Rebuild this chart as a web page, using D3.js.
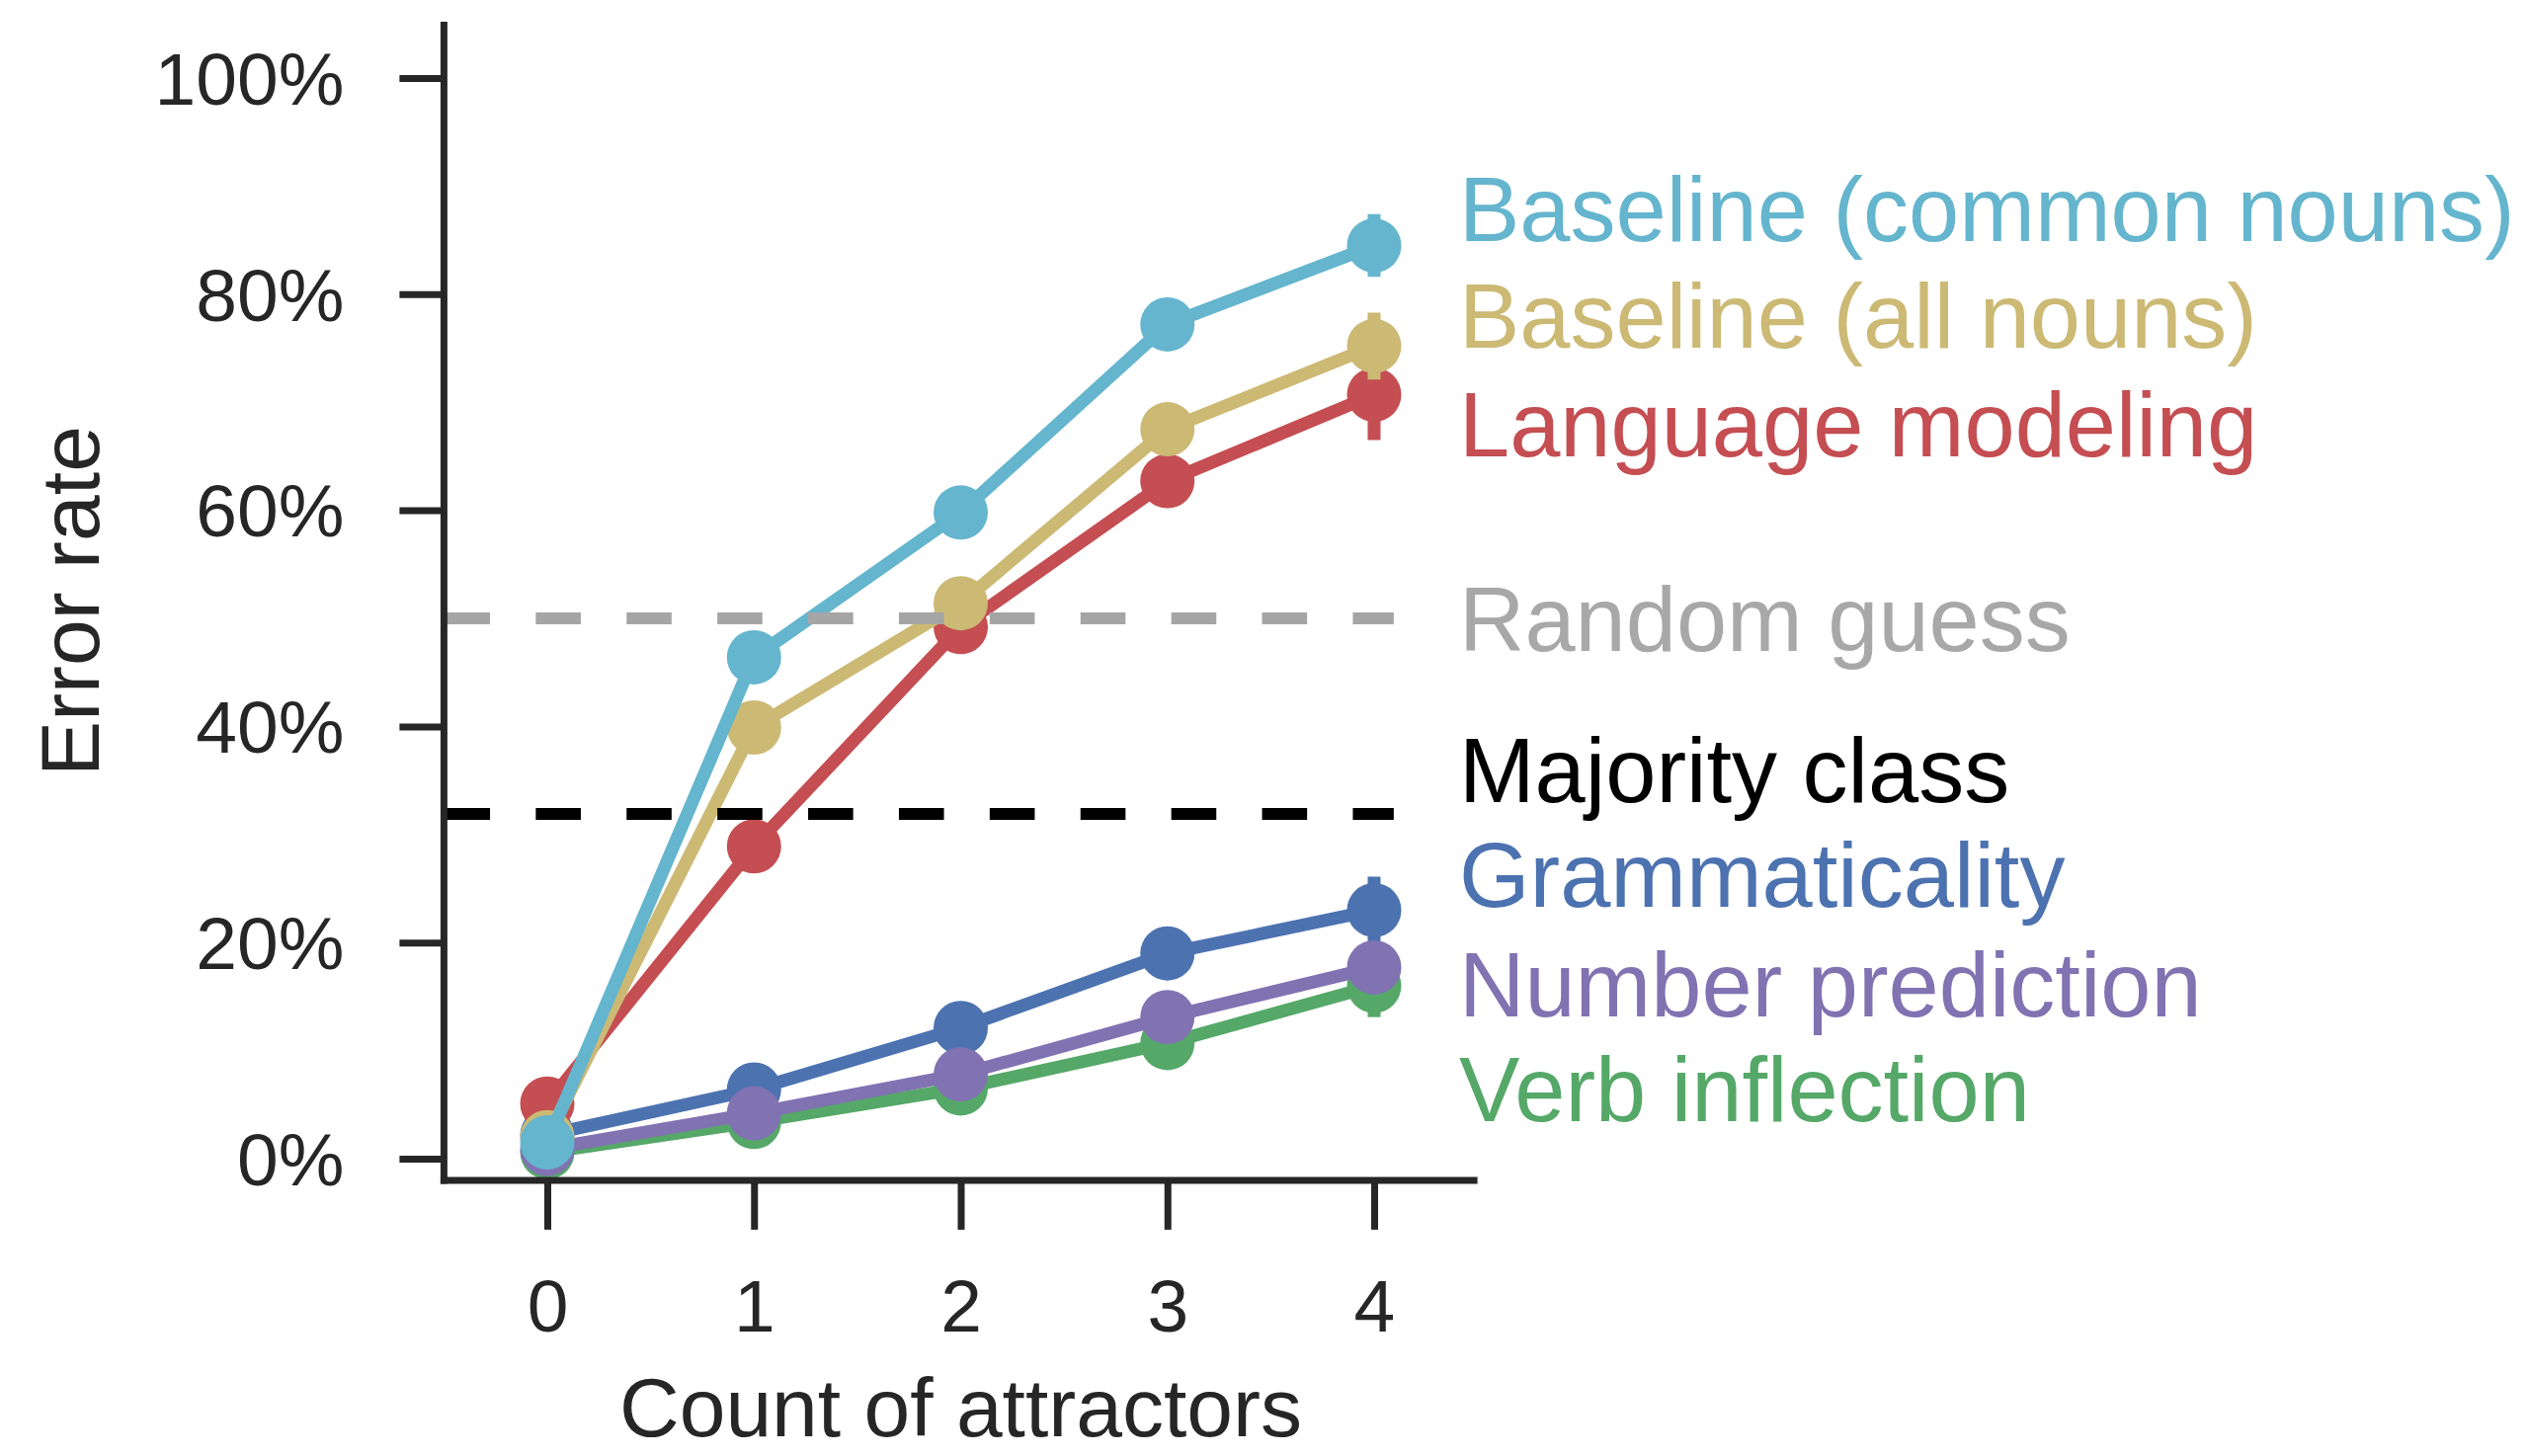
<!DOCTYPE html>
<html>
<head>
<meta charset="utf-8">
<script src="https://cdn.jsdelivr.net/npm/d3@7"></script>
<style>
  html, body { margin: 0; padding: 0; background: #ffffff; }
  svg { display: block; }
  text { font-family: "Liberation Sans", Arial, sans-serif; }
</style>
</head>
<body>
<svg id="chart" width="2557" height="1474"></svg>
<script>
// ---------------- data ----------------
const categories = [0, 1, 2, 3, 4];
const yTickValues = [0, 20, 40, 60, 80, 100];
const yTickLabels = ["0%", "20%", "40%", "60%", "80%", "100%"];

const baselineCommon   = [1.5, 46.4, 59.8, 77.2, 84.5];
const baselineAll      = [2.0, 39.9, 51.4, 67.5, 75.2];
const languageModeling = [5.1, 28.9, 49.2, 62.7, 70.7];
const grammaticality   = [2.2, 6.4, 12.1, 19.0, 23.0];
const numberPrediction = [0.9, 4.2, 7.8, 13.1, 17.7];
const verbInflection   = [0.6, 3.4, 6.5, 10.7, 16.0];

const errCommon = [0.8, 1.5, 1.6, 1.8, 2.9];
const errAll    = [0.8, 1.6, 1.7, 1.9, 3.1];
const errLM     = [0.8, 1.6, 1.7, 1.9, 4.2];
const errGram   = [0.5, 0.8, 1.2, 1.6, 3.1];
const errNum    = [0.3, 0.7, 1.0, 1.4, 2.4];
const errVerb   = [0.3, 0.7, 1.0, 1.4, 2.9];

const randomGuess = 50;
const majorityClass = 31.9;

const labelNames = ["Baseline (common nouns)", "Baseline (all nouns)", "Language modeling",
                    "Random guess", "Majority class", "Grammaticality", "Number prediction", "Verb inflection"];

// ---------------- layout / style ----------------
const labelBaselines = [84.9, 75.0, 65.0, 47.0, 33.0, 23.3, 13.2, 3.45];
const labelColors = ["#64b5cd", "#ccb974", "#c44e52", "#a8a8a8", "#000000", "#4c72b0", "#8172b2", "#55a868"];

// drawing order (bottom to top)
const series = [
  { values: verbInflection,   err: errVerb,   color: "#55a868" },
  { values: grammaticality,   err: errGram,   color: "#4c72b0" },
  { values: numberPrediction, err: errNum,    color: "#8172b2" },
  { values: languageModeling, err: errLM,     color: "#c44e52" },
  { values: baselineAll,      err: errAll,    color: "#ccb974" },
  { values: baselineCommon,   err: errCommon, color: "#64b5cd" }
];

const axisColor = "#262626";
const svg = d3.select("#chart");

const x = d3.scaleLinear().domain([-0.5, 4.5]).range([449.4, 1495.6]);
const y = d3.scaleLinear().domain([-2, 105.2]).range([1194.9, 22.1]);

const lineW = 13, markerR = 27.5, axisW = 7;

// series
const lineGen = d3.line().x((d, i) => x(categories[i])).y(d => y(d));
series.forEach(s => {
  const g = svg.append("g");
  g.selectAll("line.err").data(s.values).enter().append("line")
    .attr("x1", (d, i) => x(categories[i])).attr("x2", (d, i) => x(categories[i]))
    .attr("y1", (d, i) => y(d - s.err[i])).attr("y2", (d, i) => y(d + s.err[i]))
    .attr("stroke", s.color).attr("stroke-width", 13);
  g.append("path").datum(s.values).attr("d", lineGen)
    .attr("fill", "none").attr("stroke", s.color).attr("stroke-width", lineW)
    .attr("stroke-linejoin", "round");
  g.selectAll("circle").data(s.values).enter().append("circle")
    .attr("cx", (d, i) => x(categories[i])).attr("cy", d => y(d))
    .attr("r", markerR).attr("fill", s.color);
});

// reference lines
[[randomGuess, "#a5a5a5"], [majorityClass, "#000000"]].forEach(([v, c]) => {
  svg.append("line")
    .attr("x1", x(-0.495)).attr("x2", x(4.095))
    .attr("y1", y(v)).attr("y2", y(v))
    .attr("stroke", c).attr("stroke-width", 12)
    .attr("stroke-dasharray", "45.6 46.3");
});

// axes spines
svg.append("line").attr("x1", x(-0.5)).attr("x2", x(-0.5))
  .attr("y1", y(105.2)).attr("y2", y(-2) + axisW / 2)
  .attr("stroke", axisColor).attr("stroke-width", axisW);
svg.append("line").attr("x1", x(-0.5) - axisW / 2).attr("x2", x(4.5))
  .attr("y1", y(-2)).attr("y2", y(-2))
  .attr("stroke", axisColor).attr("stroke-width", axisW);

// y ticks
const yAxis = d3.axisLeft(y).tickValues(yTickValues)
  .tickFormat((d, i) => yTickLabels[i]).tickSize(45).tickPadding(56);
const gy = svg.append("g").attr("transform", `translate(${x(-0.5)},0)`).call(yAxis);
gy.select(".domain").remove();
gy.selectAll(".tick line").attr("stroke", axisColor).attr("stroke-width", axisW);
gy.selectAll(".tick text").attr("fill", axisColor).attr("font-size", 75)
  .attr("font-family", "'Liberation Sans', Arial, sans-serif").attr("dy", "0.35em");

// x ticks
const xAxis = d3.axisBottom(x).tickValues(categories).tickFormat(d3.format("d")).tickSize(50).tickPadding(50);
const gx = svg.append("g").attr("transform", `translate(0,${y(-2)})`).call(xAxis);
gx.select(".domain").remove();
gx.selectAll(".tick line").attr("stroke", axisColor).attr("stroke-width", axisW);
gx.selectAll(".tick text").attr("fill", axisColor).attr("font-size", 75)
  .attr("font-family", "'Liberation Sans', Arial, sans-serif").attr("dy", "0.71em");

// axis labels
svg.append("text").attr("x", (x(-0.5) + x(4.5)) / 2).attr("y", 1454)
  .attr("text-anchor", "middle").attr("font-size", 84).attr("fill", axisColor)
  .text("Count of attractors");
svg.append("text")
  .attr("transform", `translate(100,${(y(-2) + y(105.2)) / 2}) rotate(-90)`)
  .attr("text-anchor", "middle").attr("font-size", 84).attr("fill", axisColor)
  .text("Error rate");

// direct labels
svg.selectAll("text.lbl").data(labelNames).enter().append("text")
  .attr("class", "lbl")
  .attr("x", x(4) + 86)
  .attr("y", (d, i) => y(labelBaselines[i]))
  .attr("font-size", 92)
  .attr("fill", (d, i) => labelColors[i])
  .text(d => d);
</script>
</body>
</html>
